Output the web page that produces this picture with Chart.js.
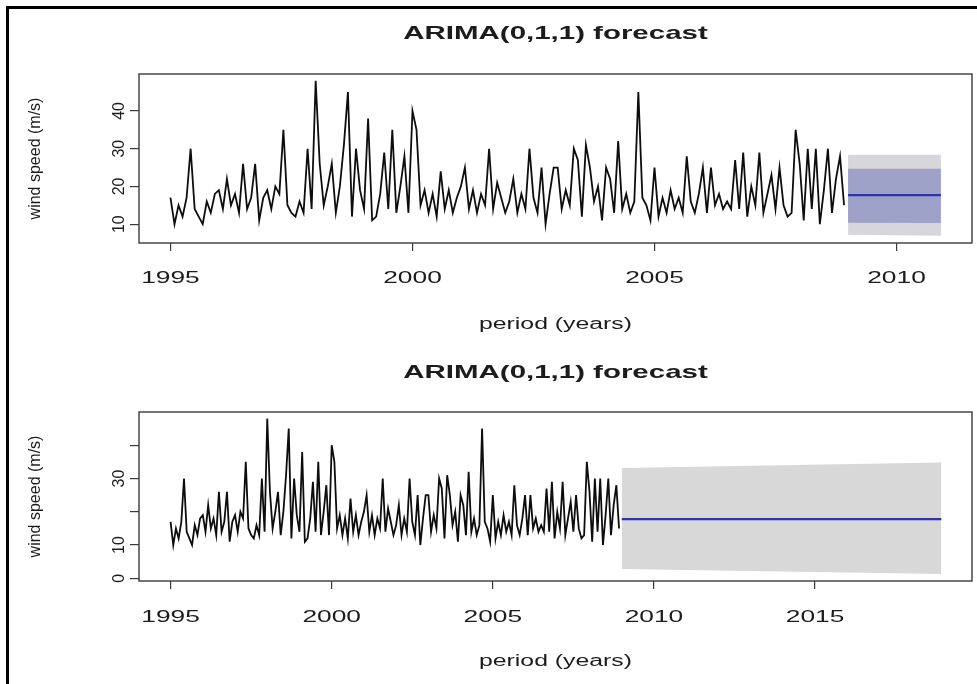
<!DOCTYPE html>
<html>
<head>
<meta charset="utf-8">
<script src="https://cdn.jsdelivr.net/npm/chart.js@4.4.1/dist/chart.umd.min.js"></script>
<style>
  body { margin: 0; background: #fff; width: 977px; height: 684px; overflow: hidden; position: relative; }
  #frame { position: absolute; left: 6px; top: 6px; right: 0; bottom: 0; border-left: 3px solid #000; border-top: 3px solid #000; }
  canvas { position: absolute; left: 0; }
  #c1 { top: 0; }
  #c2 { top: 342px; }
</style>
</head>
<body>
<div id="frame"></div>
<canvas id="c1" width="977" height="342"></canvas>
<canvas id="c2" width="977" height="342"></canvas>
<script>
// monthly wind speed (m/s), Jan 1995 .. Dec 2008
const startYear = 1995;
const windSpeed = [
  17, 10, 15, 12, 17, 30, 14, 12, 10, 16, 13, 18,   // 1995
  19, 14, 22, 15, 18, 13, 26, 14, 17, 26, 11, 17,   // 1996
  19, 14, 20, 18, 35, 15, 13, 12, 16, 13, 30, 14,   // 1997
  48, 26, 15, 20, 26, 13, 20, 31, 45, 12, 30, 19,   // 1998
  14, 38, 11, 12, 18, 29, 14, 35, 13, 20, 28, 13,   // 1999
  40, 35, 15, 19, 13, 18, 12, 24, 14, 19, 13, 17,   // 2000
  20, 25, 14, 19, 13, 18, 15, 30, 14, 21, 17, 13,   // 2001
  16, 22, 13, 18, 14, 30, 17, 13, 25, 10, 18, 25,   // 2002
  25, 14, 19, 15, 30, 27, 12, 31, 25, 16, 20, 11,   // 2003
  25, 22, 13, 32, 14, 18, 13, 16, 45, 17, 15, 11,   // 2004
  25, 12, 17, 13, 19, 14, 17, 13, 28, 16, 13, 18,   // 2005
  25, 13, 25, 15, 18, 14, 16, 14, 27, 14, 29, 12,   // 2006
  20, 15, 29, 13, 18, 23, 14, 25, 15, 12, 13, 35,   // 2007
  26, 11, 30, 14, 30, 10, 19, 30, 13, 22, 28, 15    // 2008
];

// forecast, top panel (2 years): start / end of horizon
const topFcYears = [2009.0, 2010.917];
const topMean = [17.7, 17.7];
const topLo80 = [10.4, 10.3];
const topHi80 = [24.7, 24.7];
const topLo95 = [7.2, 6.9];
const topHi95 = [28.4, 28.4];

// forecast, bottom panel (10 years)
const botFcYears = [2009.0, 2018.917];
const botMean = [17.8, 17.8];
const botLo95 = [2.8, 1.3];
const botHi95 = [33.2, 34.8];

// axes
const topXTicks = [1995, 2000, 2005, 2010];
const topYTicks = [10, 20, 30, 40];
const topYLabels = ['10', '20', '30', '40'];
const botXTicks = [1995, 2000, 2005, 2010, 2015];
const botYTicks = [0, 10, 20, 30, 40];
const botYLabels = ['0', '10', '', '30', ''];

const chartTitle = 'ARIMA(0,1,1) forecast';
const xTitle = 'period (years)';
const yTitle = 'wind speed (m/s)';

const FONT = '"Liberation Sans", Arial, Helvetica, sans-serif';

const series = windSpeed.map((v, i) => ({ x: startYear + i / 12, y: v }));
const pts = (xs, ys) => xs.map((x, i) => ({ x: x, y: ys[i] }));

// R-style text (wide horizontal text, rotated y labels) and plot box
const rPlot = {
  id: 'rPlot',
  afterDraw(chart, args, o) {
    const { ctx, chartArea: a, scales } = chart;
    const cx = (a.left + a.right) / 2;
    ctx.save();
    ctx.strokeStyle = '#3a3a3a';
    ctx.lineWidth = 1.4;
    ctx.strokeRect(a.left, a.top, a.right - a.left, a.bottom - a.top);

    ctx.fillStyle = '#1c1c1c';
    ctx.textAlign = 'center';
    ctx.textBaseline = 'middle';
    const wide = (txt, x, y, font) => {
      ctx.save();
      ctx.font = font;
      ctx.translate(x, y);
      ctx.scale(o.stretch, 1);
      ctx.fillText(txt, 0, 0);
      ctx.restore();
    };
    const upright = (txt, x, y, font) => {
      ctx.save();
      ctx.font = font;
      ctx.translate(x, y);
      ctx.rotate(-Math.PI / 2);
      ctx.fillText(txt, 0, 0);
      ctx.restore();
    };

    wide(chartTitle, cx, o.titleY, 'bold 19px ' + FONT);
    scales.x.ticks.forEach(t => wide(String(t.value), scales.x.getPixelForValue(t.value), o.xLabelY, '17px ' + FONT));
    wide(xTitle, cx, o.xTitleY, '16px ' + FONT);

    scales.y.ticks.forEach((t, i) => upright(o.yLabels[i], o.yLabelX, scales.y.getPixelForValue(t.value), '16px ' + FONT));
    upright(yTitle, o.yTitleX, (a.top + a.bottom) / 2, '16px ' + FONT);
    ctx.restore();
  }
};

function makeChart(id, cfg) {
  const datasets = [
    { data: series, borderColor: '#0d0d0d', borderWidth: 1.8 },
    { data: pts(cfg.fcYears, cfg.mean), borderColor: '#2b35a8', borderWidth: 2.2 }
  ];
  cfg.bands.forEach(b => {
    datasets.push({ data: pts(cfg.fcYears, b.lo), borderWidth: 0, borderColor: 'rgba(0,0,0,0)' });
    datasets.push({ data: pts(cfg.fcYears, b.hi), borderWidth: 0, borderColor: 'rgba(0,0,0,0)', fill: '-1', backgroundColor: b.color });
  });

  return new Chart(document.getElementById(id), {
    type: 'line',
    data: { datasets: datasets },
    options: {
      responsive: false,
      animation: false,
      events: [],
      elements: { point: { radius: 0 }, line: { tension: 0, borderJoinStyle: 'miter' } },
      layout: { padding: { left: 0, right: 5, top: cfg.top, bottom: 0 } },
      plugins: {
        legend: { display: false },
        tooltip: { enabled: false },
        rPlot: {
          stretch: 1.55,
          titleY: cfg.titleY, xLabelY: cfg.xLabelY, xTitleY: cfg.xTitleY,
          yLabelX: 120, yTitleX: 36, yLabels: cfg.yLabels
        }
      },
      scales: {
        x: {
          type: 'linear', min: cfg.xMin, max: cfg.xMax,
          afterBuildTicks: s => { s.ticks = cfg.xTicks.map(v => ({ value: v })); },
          afterFit: s => { s.height = cfg.xHeight; },
          ticks: { display: false },
          border: { display: false },
          grid: { drawOnChartArea: false, drawTicks: true, tickLength: 8, color: '#3a3a3a', lineWidth: 1.2 }
        },
        y: {
          min: cfg.yMin, max: cfg.yMax,
          afterBuildTicks: s => { s.ticks = cfg.yTicks.map(v => ({ value: v })); },
          afterFit: s => { s.width = 139; },
          ticks: { display: false },
          border: { display: false },
          grid: { drawOnChartArea: false, drawTicks: true, tickLength: 9, color: '#3a3a3a', lineWidth: 1.2 }
        }
      }
    },
    plugins: [rPlot]
  });
}

makeChart('c1', {
  top: 74, xHeight: 99,
  xMin: 1994.35, xMax: 2011.56, yMin: 5.0, yMax: 49.8,
  xTicks: topXTicks, yTicks: topYTicks, yLabels: topYLabels,
  fcYears: topFcYears, mean: topMean,
  bands: [
    { lo: topLo80, hi: topHi80, color: '#9ea1c8' },
    { lo: topLo95, hi: topHi95, color: '#d6d6db' }
  ],
  titleY: 34, xLabelY: 278, xTitleY: 325
});

makeChart('c2', {
  top: 70, xHeight: 103,
  xMin: 1994.02, xMax: 2019.87, yMin: -0.8, yMax: 50.0,
  xTicks: botXTicks, yTicks: botYTicks, yLabels: botYLabels,
  fcYears: botFcYears, mean: botMean,
  bands: [
    { lo: botLo95, hi: botHi95, color: '#d8d8d8' }
  ],
  titleY: 31, xLabelY: 275, xTitleY: 320
});
</script>
</body>
</html>
